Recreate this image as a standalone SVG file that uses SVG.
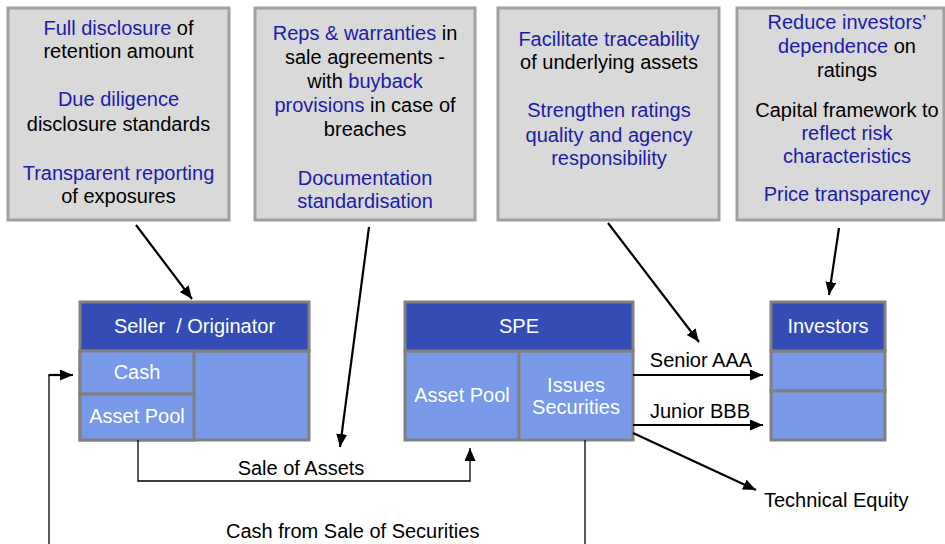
<svg xmlns="http://www.w3.org/2000/svg" width="945" height="544" viewBox="0 0 945 544">
<style>
text{font-family:"Liberation Sans",Arial,sans-serif;font-size:20px;}
.note{fill:#d9d9d9;stroke:#a0a0a0;stroke-width:3;}
.nt{text-anchor:middle;fill:#000;}
.b{fill:#1c1ca8;}
.hd{fill:#334cb6;stroke:#808080;stroke-width:3;}
.bd{fill:#7799e8;stroke:#808080;stroke-width:3;}
.wt{fill:#fff;text-anchor:middle;}
.lbl{fill:#000;}
.thick{stroke:#000;stroke-width:2.2;fill:none;}
.thin{stroke:#000;stroke-width:1.3;fill:none;}
</style>
<defs>
<marker id="ah" markerUnits="userSpaceOnUse" markerWidth="14" markerHeight="12" refX="13" refY="5.5" orient="auto">
<path d="M0,0 L13,5.5 L0,11 Z" fill="#000"/>
</marker>
</defs>

<g id="note1">
<rect class="note" x="8" y="8" width="221" height="212"/>
<text class="nt" x="118.5" y="35"><tspan class="b">Full disclosure</tspan> of</text>
<text class="nt" x="118.5" y="58">retention amount</text>
<text class="nt b" x="118.5" y="106">Due diligence</text>
<text class="nt" x="118.5" y="131">disclosure standards</text>
<text class="nt b" x="118.5" y="180">Transparent reporting</text>
<text class="nt" x="118.5" y="203">of exposures</text>
</g>

<g id="note2">
<rect class="note" x="255" y="8" width="220" height="212"/>
<text class="nt" x="365" y="40"><tspan class="b">Reps &amp; warranties</tspan> in</text>
<text class="nt" x="365" y="64">sale agreements -</text>
<text class="nt" x="365" y="88">with <tspan class="b">buyback</tspan></text>
<text class="nt" x="365" y="112"><tspan class="b">provisions</tspan> in case of</text>
<text class="nt" x="365" y="136">breaches</text>
<text class="nt b" x="365" y="185">Documentation</text>
<text class="nt b" x="365" y="208">standardisation</text>
</g>

<g id="note3">
<rect class="note" x="498" y="8" width="221" height="212"/>
<text class="nt b" x="609" y="46">Facilitate traceability</text>
<text class="nt" x="609" y="69">of underlying assets</text>
<text class="nt b" x="609" y="117">Strengthen ratings</text>
<text class="nt b" x="609" y="142">quality and agency</text>
<text class="nt b" x="609" y="165">responsibility</text>
</g>

<g id="note4">
<rect class="note" x="737" y="8" width="207" height="212"/>
<text class="nt b" x="847" y="29">Reduce investors’</text>
<text class="nt" x="847" y="53"><tspan class="b">dependence</tspan> on</text>
<text class="nt" x="847" y="77">ratings</text>
<text class="nt" x="847" y="117">Capital framework to</text>
<text class="nt b" x="847" y="140">reflect risk</text>
<text class="nt b" x="847" y="163">characteristics</text>
<text class="nt b" x="847" y="201">Price transparency</text>
</g>

<g id="seller">
<rect class="bd" x="80" y="351" width="229" height="89"/>
<rect class="hd" x="80" y="302" width="229" height="49"/>
<rect class="bd" x="80" y="351" width="114" height="43"/>
<rect class="bd" x="80" y="394" width="114" height="46"/>
<text class="wt" x="194.5" y="333">Seller&#160; / Originator</text>
<text class="wt" x="137" y="379">Cash</text>
<text class="wt" x="137" y="423">Asset Pool</text>
</g>

<g id="spe">
<rect class="bd" x="405" y="351" width="228" height="89"/>
<rect class="hd" x="405" y="302" width="228" height="49"/>
<line x1="519" y1="351" x2="519" y2="440" stroke="#808080" stroke-width="3"/>
<text class="wt" x="519" y="333">SPE</text>
<text class="wt" x="462" y="402">Asset Pool</text>
<text class="wt" x="576" y="392">Issues</text>
<text class="wt" x="576" y="414">Securities</text>
</g>

<g id="investors">
<rect class="bd" x="771" y="351" width="114" height="40"/>
<rect class="bd" x="771" y="391" width="114" height="49"/>
<rect class="hd" x="771" y="302" width="114" height="49"/>
<text class="wt" x="828" y="333">Investors</text>
</g>

<g id="connectors">
<line class="thick" x1="136" y1="225" x2="192" y2="299" marker-end="url(#ah)"/>
<line class="thick" x1="369" y1="227" x2="340" y2="447" marker-end="url(#ah)"/>
<line class="thick" x1="608" y1="223" x2="699" y2="342" marker-end="url(#ah)"/>
<line class="thick" x1="839" y1="228" x2="829" y2="295" marker-end="url(#ah)"/>
<line class="thick" x1="633" y1="375" x2="763" y2="375" stroke-width="2.6" marker-end="url(#ah)"/>
<line class="thick" x1="633" y1="425" x2="763" y2="425" stroke-width="2.6" marker-end="url(#ah)"/>
<line class="thick" x1="633" y1="433" x2="756" y2="490" marker-end="url(#ah)"/>
<polyline class="thin" points="138,440 138,481 470,481 470,448" marker-end="url(#ah)"/>
<line class="thin" x1="585" y1="440" x2="585" y2="544"/>
<line class="thin" x1="49" y1="544" x2="49" y2="375"/>
<line class="thick" x1="48.5" y1="375" x2="73" y2="375" stroke-width="2.4" marker-end="url(#ah)"/>
<text class="lbl" x="701" y="367" text-anchor="middle">Senior AAA</text>
<text class="lbl" x="700" y="418" text-anchor="middle">Junior BBB</text>
<text class="lbl" x="764" y="507">Technical Equity</text>
<text class="lbl" x="301" y="475" text-anchor="middle">Sale of Assets</text>
<text class="lbl" x="226" y="538">Cash from Sale of Securities</text>
</g>
</svg>
